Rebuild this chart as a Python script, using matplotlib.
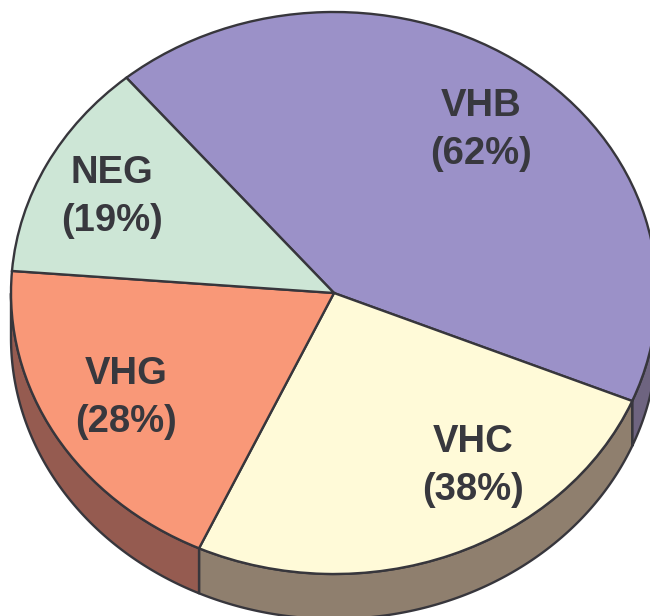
import numpy as np
import matplotlib
matplotlib.use("Agg")
import matplotlib.pyplot as plt

names = ["VHB", "VHC", "VHG", "NEG"]
percents = [62, 38, 28, 19]
sizes = [152.6, 92.1, 69.8, 45.5]
top_colors = ["#9B91C8", "#FFFAD8", "#F99878", "#CDE6D6"]
side_colors = ["#6E6480", "#8F7F6E", "#955B50", "#7F8F85"]

edge = "#37363C"
lw = 1.7
start = 130.0
depth = 45 / 281  # height of the rim, in radius units

# Pixel geometry of the ellipse in the 650x616 picture
cx, cy, rx, ry = 334, 293, 323, 281


def px(x, y):
    return (x - cx) / rx, (cy - y) / ry


fig = plt.figure(figsize=(6.5, 6.16), dpi=100)
ax = fig.add_axes([0, 0, 1, 1])

# Rim: only the part of each wedge on the lower half of the ellipse
fracs = np.array(sizes) / sum(sizes)
ends = start - np.cumsum(fracs) * 360
begins = np.r_[start, ends[:-1]]
for a0, a1, col in zip(begins, ends, side_colors):
    lo, hi = np.radians(a1) % (2 * np.pi), np.radians(a0) % (2 * np.pi)
    if hi <= lo:
        hi += 2 * np.pi
    th = np.linspace(lo, hi, 200)
    th = th[np.sin(th) <= 0]
    if len(th) < 2:
        continue
    xs = np.cos(th)
    ys = np.sin(th)
    ax.fill(np.r_[xs, xs[::-1]], np.r_[ys, ys[::-1] - depth],
            facecolor=col, edgecolor=edge, lw=lw, zorder=1, joinstyle="round")

# Top face
ax.pie(sizes, colors=top_colors, startangle=start, counterclock=False,
       radius=1, wedgeprops=dict(edgecolor=edge, linewidth=lw, zorder=2))

ax.set_aspect("auto")
ax.set_xlim(px(0, 0)[0], px(650, 0)[0])
ax.set_ylim(px(0, 616)[1], px(0, 0)[1])
ax.axis("off")

label_px = [(481, 130), (473, 466), (126, 398), (112, 197)]
for name, p, (lx, ly) in zip(names, percents, label_px):
    x, y = px(lx, ly)
    ax.text(x, y, f"{name}\n({p}%)", ha="center", va="center", color="#38383E",
            family="Liberation Sans", fontweight="bold", fontsize=27.5,
            linespacing=1.42, zorder=5)

fig.savefig("out.png", dpi=100)
